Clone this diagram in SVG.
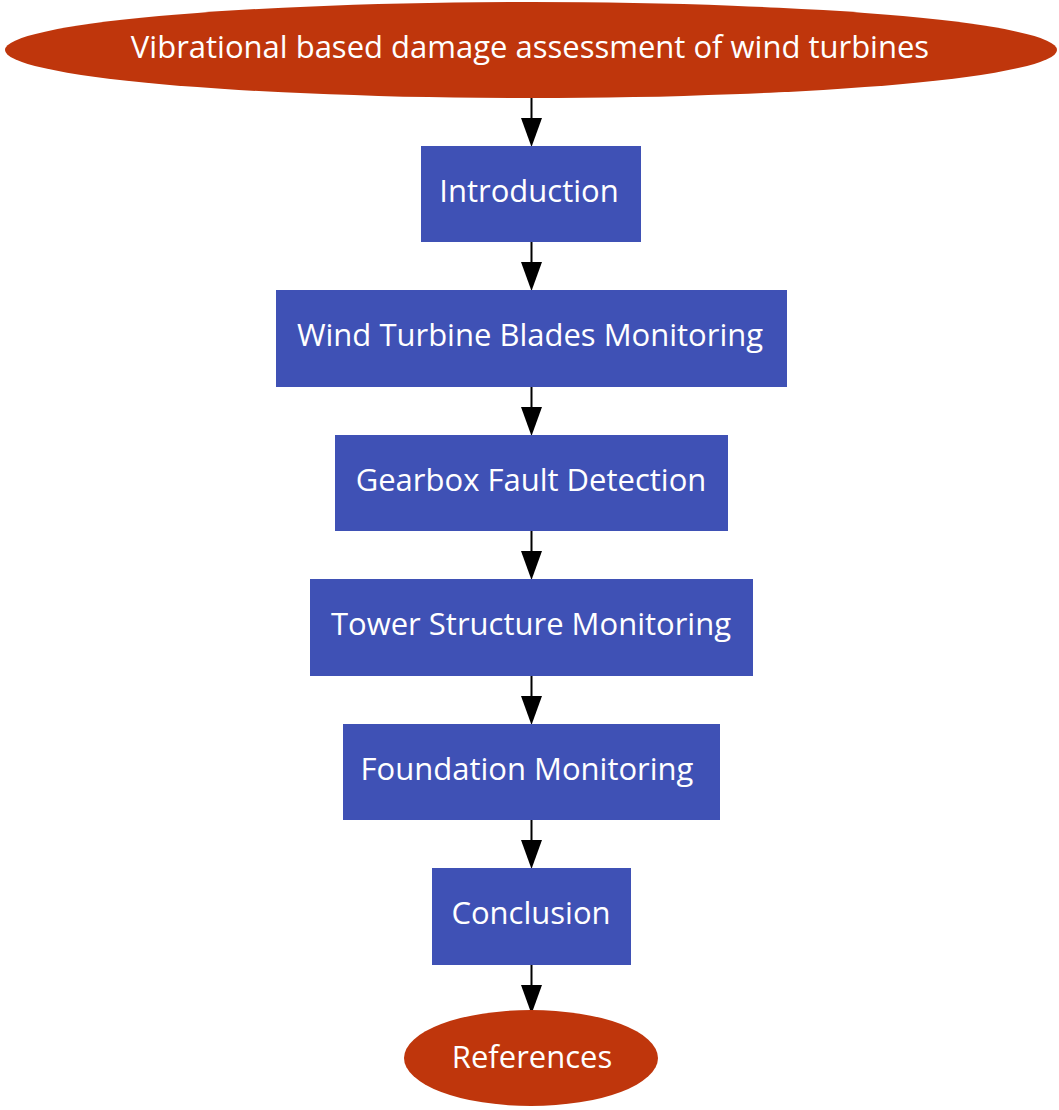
<svg xmlns="http://www.w3.org/2000/svg" width="1059" height="1110" viewBox="0 0 1059 1110">
<defs>
<style>
.ell{fill:#bf360c;}
.box{fill:#3f51b5;}
.lbl{fill:#ffffff;font-family:"Open Sans","Noto Sans",sans-serif;font-size:31px;text-anchor:middle;}
.edge{stroke:#000000;stroke-width:2;fill:none;}
.head{fill:#000000;}
</style>
</defs>
<rect width="1059" height="1110" fill="#ffffff"/>
<g id="connectors">
<line class="edge" x1="531.5" y1="97" x2="531.5" y2="120"/><polygon class="head" points="521,118 542,118 531.5,147"/>
<line class="edge" x1="531.5" y1="242" x2="531.5" y2="264"/><polygon class="head" points="521,262 542,262 531.5,291"/>
<line class="edge" x1="531.5" y1="387" x2="531.5" y2="409"/><polygon class="head" points="521,407 542,407 531.5,436"/>
<line class="edge" x1="531.5" y1="531" x2="531.5" y2="553"/><polygon class="head" points="521,551 542,551 531.5,580"/>
<line class="edge" x1="531.5" y1="676" x2="531.5" y2="698"/><polygon class="head" points="521,696 542,696 531.5,725"/>
<line class="edge" x1="531.5" y1="820" x2="531.5" y2="842"/><polygon class="head" points="521,840 542,840 531.5,869"/>
<line class="edge" x1="531.5" y1="965" x2="531.5" y2="987"/><polygon class="head" points="521,985 542,985 531.5,1014"/>
</g>
<g id="title">
<ellipse class="ell" cx="531" cy="50" rx="526" ry="48"/>
<text class="lbl" x="530" y="58">Vibrational based damage assessment of wind turbines</text>
</g>
<g id="introduction">
<rect class="box" x="421" y="146" width="220" height="96"/>
<text class="lbl" x="529" y="202">Introduction</text>
</g>
<g id="blades">
<rect class="box" x="276" y="290" width="511" height="97"/>
<text class="lbl" x="530" y="346">Wind Turbine Blades Monitoring</text>
</g>
<g id="gearbox">
<rect class="box" x="335" y="435" width="393" height="96"/>
<text class="lbl" x="531" y="491">Gearbox Fault Detection</text>
</g>
<g id="tower">
<rect class="box" x="310" y="579" width="443" height="97"/>
<text class="lbl" x="531" y="635">Tower Structure Monitoring</text>
</g>
<g id="foundation">
<rect class="box" x="343" y="724" width="377" height="96"/>
<text class="lbl" x="527" y="780">Foundation Monitoring</text>
</g>
<g id="conclusion">
<rect class="box" x="432" y="868" width="199" height="97"/>
<text class="lbl" x="531" y="924">Conclusion</text>
</g>
<g id="references">
<ellipse class="ell" cx="531" cy="1058" rx="127" ry="48"/>
<text class="lbl" x="532" y="1068">References</text>
</g>
</svg>
